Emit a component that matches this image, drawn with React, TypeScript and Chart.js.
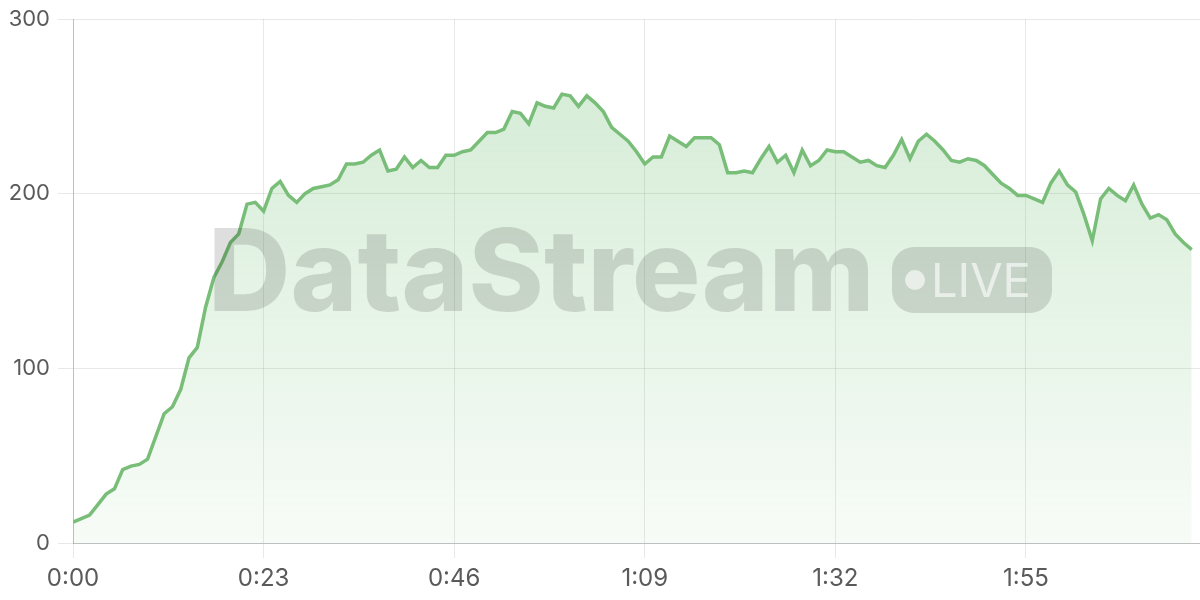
import React, { useEffect, useRef } from "react";
import { Chart, registerables } from "chart.js";

Chart.register(...registerables);

const seconds: number[] = Array.from({ length: 136 }, (_, i) => i);
const values: number[] = [
  12, 14, 16, 22, 28, 31, 42, 44, 45, 48,
  61, 74, 78, 88, 106, 112, 135, 152, 161, 172,
  177, 194, 195, 190, 203, 207, 199, 195, 200, 203,
  204, 205, 208, 217, 217, 218, 222, 225, 213, 214,
  221, 215, 219, 215, 215, 222, 222, 224, 225, 230,
  235, 235, 237, 247, 246, 240, 252, 250, 249, 257,
  256, 250, 256, 252, 247, 238, 234, 230, 224, 217,
  221, 221, 233, 230, 227, 232, 232, 232, 228, 212,
  212, 213, 212, 220, 227, 218, 222, 212, 225, 216,
  219, 225, 224, 224, 221, 218, 219, 216, 215, 222,
  231, 220, 230, 234, 230, 225, 219, 218, 220, 219,
  216, 211, 206, 203, 199, 199, 197, 195, 206, 213,
  205, 201, 188, 173, 197, 203, 199, 196, 205, 194,
  186, 188, 185, 177, 172, 168,
];
const xStep = 23;
const xMax = 136;
const yTicks: number[] = [0, 100, 200, 300];

const fmt = (s: number) => `${Math.floor(s / 60)}:${String(Math.round(s % 60)).padStart(2, "0")}`;

export default function App() {
  const ref = useRef<HTMLCanvasElement | null>(null);
  useEffect(() => {
    const canvas = ref.current!;
    const chart = new Chart(canvas, {
      type: "line",
      data: {
        datasets: [
          {
            data: seconds.map((s, i) => ({ x: s, y: values[i] })),
            borderColor: "#78bd78",
            borderWidth: 3.5,
            pointRadius: 0,
            tension: 0,
            fill: "origin",
            backgroundColor: (ctx: any) => {
              const { chart } = ctx;
              const area = chart.chartArea;
              if (!area) return "rgba(102,187,106,0.2)";
              const g = chart.ctx.createLinearGradient(0, area.top, 0, area.bottom);
              g.addColorStop(0, "rgba(102,187,106,0.30)");
              g.addColorStop(1, "rgba(102,187,106,0.05)");
              return g;
            },
          },
        ],
      },
      options: {
        animation: false,
        responsive: true,
        maintainAspectRatio: false,
        layout: { padding: { top: 6, right: 0, left: 0, bottom: 0 } },
        plugins: { legend: { display: false }, tooltip: { enabled: false } },
        scales: {
          x: {
            type: "linear",
            min: 0,
            max: xMax,
            afterFit: (s: any) => { s.height = 57; },
            grid: { color: "rgba(0,0,0,0.09)", tickLength: 15, tickColor: "rgba(0,0,0,0.09)" },
            border: { color: "rgba(0,0,0,0.18)" },
            ticks: {
              stepSize: xStep,
              includeBounds: false,
              maxRotation: 0,
              padding: 6,
              color: "#5a5a5a",
              font: { family: "Inter", size: 24 },
              callback: (v: any) => fmt(Number(v)),
            },
          },
          y: {
            min: yTicks[0],
            max: yTicks[yTicks.length - 1],
            afterFit: (s: any) => { s.width = 73; },
            grid: { color: "rgba(0,0,0,0.09)", tickLength: 15, tickColor: "rgba(0,0,0,0.09)" },
            border: { color: "rgba(0,0,0,0.18)" },
            ticks: {
              stepSize: 100,
              padding: 8,
              color: "#5a5a5a",
              font: { family: "Inter", size: 22, lineHeight: 1.0 },
            },
          },
        },
      },
    } as any);
    return () => chart.destroy();
  }, []);

  return (
    <div style={{ position: "fixed", left: 0, top: 0, width: 1200, height: 600, background: "#fff" }}>
      <canvas ref={ref} />
      <div
        style={{
          position: "absolute",
          left: 0,
          top: 0,
          width: 1200,
          height: 600,
          pointerEvents: "none",
        }}
      >
        <div
          style={{
            position: "absolute",
            left: 208,
            top: 205,
            fontFamily: "Inter",
            fontWeight: 800,
            fontSize: 114,
            lineHeight: "130px",
            color: "rgba(0,0,0,0.13)",
            letterSpacing: "0px",
            whiteSpace: "nowrap",
          }}
        >
          DataStream
        </div>
        <div
          style={{
            position: "absolute",
            left: 892,
            top: 247,
            width: 160,
            height: 66,
            borderRadius: 22,
            background: "rgba(0,0,0,0.13)",
            display: "flex",
            alignItems: "center",
            boxSizing: "border-box",
            paddingLeft: 13,
          }}
        >
          <div style={{ width: 20, height: 20, borderRadius: 10, background: "rgba(255,255,255,0.6)" }} />
          <span
            style={{
              marginLeft: 6,
              fontFamily: "Inter",
              fontSize: 47,
              lineHeight: "66px",
              color: "rgba(255,255,255,0.6)",
            }}
          >
            LIVE
          </span>
        </div>
      </div>
    </div>
  );
}
